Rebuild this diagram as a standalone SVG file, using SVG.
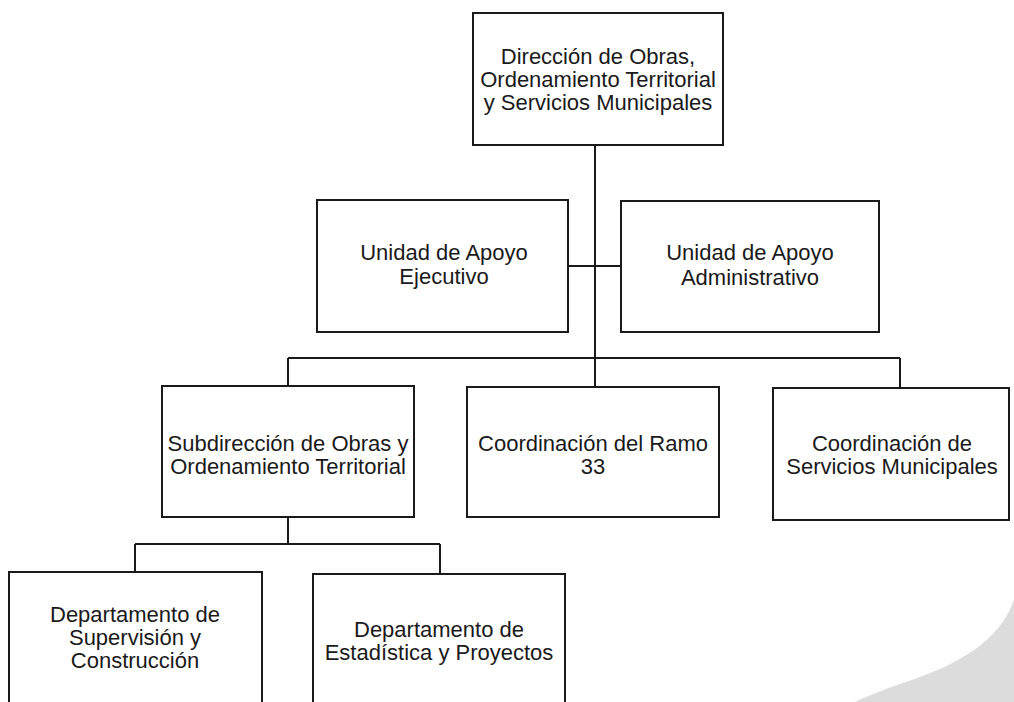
<svg xmlns="http://www.w3.org/2000/svg" width="1014" height="702" viewBox="0 0 1014 702">
<style>
.box{fill:#fff;stroke:#1a1a1a;stroke-width:2}
.t{font-family:"Liberation Sans",Arial,sans-serif;font-size:22px;fill:#1a1a1a;text-anchor:middle}
.c{stroke:#1a1a1a;stroke-width:2;fill:none}
</style>
<rect width="1014" height="702" fill="#fefefe"/>
<path d="M1014 600 C1000 640 960 665 900 684 C880 691 866 697 855 702 L1014 702 Z" fill="#dcdcdc"/>
<g id="connectors">
<path class="c" d="M595 145 V387"/>
<path class="c" d="M568 266 H621"/>
<path class="c" d="M288 358 H900"/>
<path class="c" d="M288 358 V386"/>
<path class="c" d="M900 358 V388"/>
<path class="c" d="M288 517 V544"/>
<path class="c" d="M135 544 H440"/>
<path class="c" d="M135 544 V572"/>
<path class="c" d="M440 544 V574"/>
</g>
<g id="n-direccion">
<rect class="box" x="473" y="13" width="250" height="132"/>
<text class="t" x="598" y="64">Dirección de Obras,</text>
<text class="t" x="598" y="87">Ordenamiento Territorial</text>
<text class="t" x="598" y="110">y Servicios Municipales</text>
</g>
<g id="n-ejecutivo">
<rect class="box" x="317" y="200" width="251" height="132"/>
<text class="t" x="444" y="260">Unidad de Apoyo</text>
<text class="t" x="444" y="284">Ejecutivo</text>
</g>
<g id="n-administrativo">
<rect class="box" x="621" y="201" width="258" height="131"/>
<text class="t" x="750" y="260">Unidad de Apoyo</text>
<text class="t" x="750" y="285">Administrativo</text>
</g>
<g id="n-subdireccion">
<rect class="box" x="162" y="386" width="252" height="131"/>
<text class="t" x="288" y="451">Subdirección de Obras y</text>
<text class="t" x="288" y="474">Ordenamiento Territorial</text>
</g>
<g id="n-ramo33">
<rect class="box" x="467" y="387" width="252" height="130"/>
<text class="t" x="593" y="451">Coordinación del Ramo</text>
<text class="t" x="593" y="474">33</text>
</g>
<g id="n-servicios">
<rect class="box" x="773" y="388" width="236" height="132"/>
<text class="t" x="892" y="451">Coordinación de</text>
<text class="t" x="892" y="474">Servicios Municipales</text>
</g>
<g id="n-supervision">
<rect class="box" x="9" y="572" width="253" height="150"/>
<text class="t" x="135" y="622">Departamento de</text>
<text class="t" x="135" y="645">Supervisión y</text>
<text class="t" x="135" y="668">Construcción</text>
</g>
<g id="n-estadistica">
<rect class="box" x="313" y="574" width="252" height="150"/>
<text class="t" x="439" y="637">Departamento de</text>
<text class="t" x="439" y="660">Estadística y Proyectos</text>
</g>
</svg>
